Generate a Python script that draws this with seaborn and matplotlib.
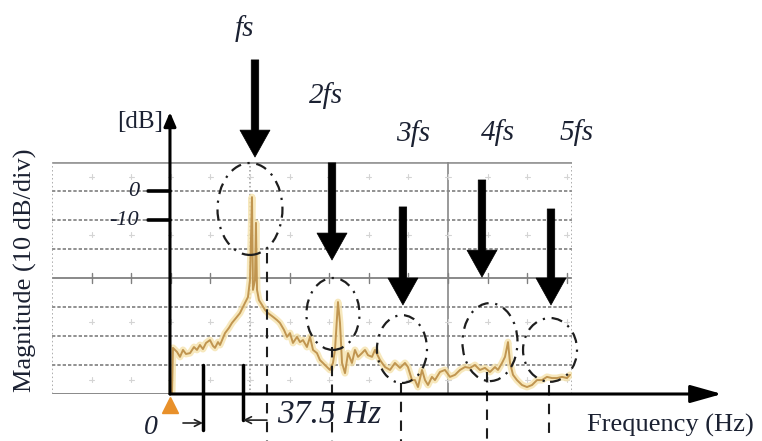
import numpy as np
import pandas as pd
import matplotlib
matplotlib.use("Agg")
import matplotlib.pyplot as plt
import seaborn as sns
from matplotlib.patches import Ellipse

# ---------------- data ----------------
freq_hz = [1.9, 2.8, 6.6, 9.4, 12.2, 15.0, 18.8, 22.5, 25.3, 28.1, 30.9, 33.8, 37.5,
           40.3, 42.2, 45.0, 46.9, 51.6, 55.3, 58.1, 61.9, 65.6, 70.3, 73.1, 75.0,
           76.9, 77.8, 79.7, 80.6, 81.6, 83.4, 86.3, 89.1, 91.9, 96.6, 100.3, 103.1,
           106.9, 109.7, 112.5, 115.3, 119.1, 121.9, 124.7, 128.4, 131.3, 134.1,
           137.8, 140.6, 143.4, 147.2, 150.0, 152.8, 154.7, 157.5, 159.4, 161.3,
           164.1, 166.9, 170.6, 173.4, 176.3, 180.0, 182.8, 185.6, 189.4, 192.2,
           196.9, 201.6, 206.3, 210.9, 215.6, 220.3, 223.1, 226.9, 229.7, 232.5,
           236.3, 239.1, 241.9, 245.6, 248.4, 253.1, 257.8, 262.5, 267.2, 271.9,
           276.6, 281.3, 285.9, 290.6, 295.3, 300.0, 304.7, 307.5, 311.3, 314.1,
           316.9, 318.8, 321.6, 325.3, 330.0, 334.7, 339.4, 344.1, 348.8, 353.4,
           358.1, 362.8, 367.5, 372.2, 375.0]
mag_db = [-70.0, -54.1, -55.5, -57.2, -54.8, -56.2, -55.9, -53.8, -54.8, -53.1, -54.5,
          -52.4, -51.4, -53.4, -54.1, -52.1, -53.1, -49.0, -47.2, -45.5, -43.8, -42.1,
          -38.6, -36.6, -30.7, -2.1, -34.1, -30.7, -11.0, -34.1, -37.6, -39.3, -41.0,
          -42.1, -43.4, -44.5, -45.5, -47.9, -50.3, -49.0, -52.4, -50.3, -52.1, -51.4,
          -53.8, -50.3, -54.8, -55.9, -58.3, -59.3, -60.7, -61.7, -59.3, -54.8, -38.3,
          -45.5, -59.3, -62.8, -55.9, -59.3, -54.8, -57.2, -55.9, -54.8, -56.6, -57.2,
          -54.8, -58.3, -60.7, -61.7, -59.3, -61.0, -59.3, -60.7, -65.2, -65.2, -67.6,
          -61.7, -65.2, -66.9, -64.1, -65.2, -62.4, -61.7, -64.1, -63.4, -61.7, -60.7,
          -61.0, -60.0, -61.7, -61.0, -62.4, -60.7, -61.7, -59.3, -57.2, -52.1, -59.3,
          -63.4, -65.2, -66.9, -67.6, -66.9, -65.2, -65.2, -64.1, -64.5, -64.5, -64.1,
          -64.5, -63.4]
harmonic_labels = ["fs", "2fs", "3fs", "4fs", "5fs"]
y_tick_values = [0, -10]
y_tick_labels = ["0", "-10"]
spacing_label = "37.5 Hz"
origin_label = "0"
x_label = "Frequency (Hz)"
y_label = "Magnitude (10 dB/div)"
y_unit = "[dB]"

df = pd.DataFrame({"freq": freq_hz, "mag": mag_db})

# ---------------- style ----------------
sns.set_theme(style="white")
plt.rcParams["font.family"] = ["Liberation Serif", "DejaVu Serif"]
TXT = "#1b2132"

fig = plt.figure(figsize=(7.62, 4.41), dpi=100)
ax = fig.add_axes([52 / 762, 1 - 394 / 441, 520 / 762, 232 / 441])
X0, X1 = -110.6, 376.9
Y0, Y1 = -70, 10
ax.set_xlim(X0, X1)
ax.set_ylim(Y0, Y1)
ax.axis("off")

# scope-screen grid
div = 37.125
ax.hlines([0, -10, -20, -40, -50, -60], X0, X1, colors="#7e7e7e",
          linestyles=(0, (2, 1.2)), lw=1.2)
ax.hlines(Y1, X0, X1, colors="#9a9a9a", lw=2.0)
ax.hlines(-30, X0, X1, colors="#808080", lw=1.3)
ax.hlines(Y0, X0, 0, colors="#808080", lw=1.3)
ax.vlines(X0 + 10 * div, Y0, Y1, colors="#888888", lw=1.2)
ax.vlines([X0, X0 + 5 * div, X1], Y0, Y1, colors="#999999",
          linestyles=(0, (1, 1.6)), lw=1.1)
for k in range(1, 14):
    xk = X0 + k * div
    ax.plot([xk, xk], [-31.6, -28.4], color="#808080", lw=1.0)
    for yk in [5, -15, -45, -65]:
        ax.plot([xk - 2.5, xk + 2.5], [yk, yk], color="#d4d4d4", lw=0.8)
        ax.plot([xk, xk], [yk - 0.9, yk + 0.9], color="#d4d4d4", lw=0.8)

# spectrum trace (glow + line)
sns.lineplot(data=df, x="freq", y="mag", ax=ax, color="#f5e3ad", lw=5,
             alpha=0.8, sort=False, estimator=None)
sns.lineplot(data=df, x="freq", y="mag", ax=ax, color="#c09550", lw=1.4,
             sort=False, estimator=None)

# black axes
ax.annotate("", xy=(0, 27.2), xytext=(0, Y0), annotation_clip=False,
            arrowprops=dict(arrowstyle="-|>,head_length=0.7,head_width=0.3",
                            lw=2.2, color="black", shrinkA=0, shrinkB=0))
ax.annotate("", xy=(517.5, Y0), xytext=(0, Y0), annotation_clip=False,
            arrowprops=dict(arrowstyle="-|>,head_length=1.6,head_width=0.45",
                            lw=2.2, color="black", shrinkA=0, shrinkB=0))
ax.plot(0, -73.8, marker="^", ms=12, color="#e8902a", clip_on=False, zorder=5)

for v, lab in zip(y_tick_values, y_tick_labels):
    ax.plot([-20.6, 0], [v, v], color="black", lw=2.6, clip_on=False)
    ax.text(-29, v, lab, ha="right", va="center", style="italic", fontsize=16,
            color=TXT)

ax.text(-6.6, 23.8, y_unit, ha="right", va="center", fontsize=18, color=TXT)

# harmonic arrows, labels, circles and dashed lines
arrow_x = [79.7, 151.9, 218.4, 292.5, 357.2]
arrow_tail = [45.2, 9.7, -5.5, 3.8, -6.2]
arrow_tip = [11.7, -23.8, -39.3, -29.7, -39.3]
label_xy = [(69.4, 56.2), (146.3, 32.8), (227.8, 19.7), (307.5, 20.3), (381.6, 20.3)]
ellipses = [(75.0, -6.2, 60.9, 31.7), (152.8, -42.4, 49.7, 24.8),
            (217.5, -54.5, 46.9, 23.4), (300.0, -52.1, 51.6, 26.9),
            (356.3, -54.8, 50.6, 22.0)]
dash_x = [90.9, 151.9, 216.6, 297.2, 355.3]
dash_top = [-21.4, -53.8, -66.2, -62.4, -66.9]
FIG_BOTTOM = -86.2

for i, lab in enumerate(harmonic_labels):
    ax.annotate("", xy=(arrow_x[i], arrow_tip[i]), xytext=(arrow_x[i], arrow_tail[i]),
                annotation_clip=False,
                arrowprops=dict(arrowstyle="simple,head_length=0.97,head_width=1.08,tail_width=0.27",
                                mutation_scale=20, fc="black", ec="black", lw=0.5,
                                shrinkA=0, shrinkB=0))
    ax.text(label_xy[i][0], label_xy[i][1], lab, ha="center", va="center",
            style="italic", fontsize=21, color=TXT)
    cx, cy, w, h = ellipses[i]
    ax.add_patch(Ellipse((cx, cy), w, h, fill=False, ec="#1e1e1e", lw=1.6,
                         ls=(0, (5, 3, 1, 3)), clip_on=False, zorder=4))
    ax.plot([dash_x[i], dash_x[i]], [dash_top[i], FIG_BOTTOM], color="#1e1e1e",
            lw=1.5, ls=(0, (5, 4)), clip_on=False)

# spacing markers
for xm, yb in [(30.9, -82.4), (68.4, -79.0)]:
    ax.plot([xm, xm], [-60, yb], color="black", lw=2.5, clip_on=False)
ax.annotate("", xy=(30.9, -80.0), xytext=(12.2, -80.0), annotation_clip=False,
            arrowprops=dict(arrowstyle="->", lw=1.2, color="#222222",
                            shrinkA=0, shrinkB=0))
ax.annotate("", xy=(68.4, -79.0), xytext=(90.9, -79.0), annotation_clip=False,
            arrowprops=dict(arrowstyle="->", lw=1.2, color="#222222",
                            shrinkA=0, shrinkB=0))
ax.text(100.3, -77.2, spacing_label, ha="left", va="center", style="italic",
        fontsize=24, color=TXT)
ax.text(-17.8, -85.9, origin_label, ha="center", va="bottom", style="italic",
        fontsize=20, color=TXT)

# axis titles
fig.text(25 / 762, 1 - 270 / 441, y_label, rotation=90, ha="center", va="center",
         fontsize=19, color=TXT)
fig.text(587 / 762, 1 - 425 / 441, x_label, ha="left", va="center",
         fontsize=19, color=TXT)

fig.savefig("out.png", dpi=100)
